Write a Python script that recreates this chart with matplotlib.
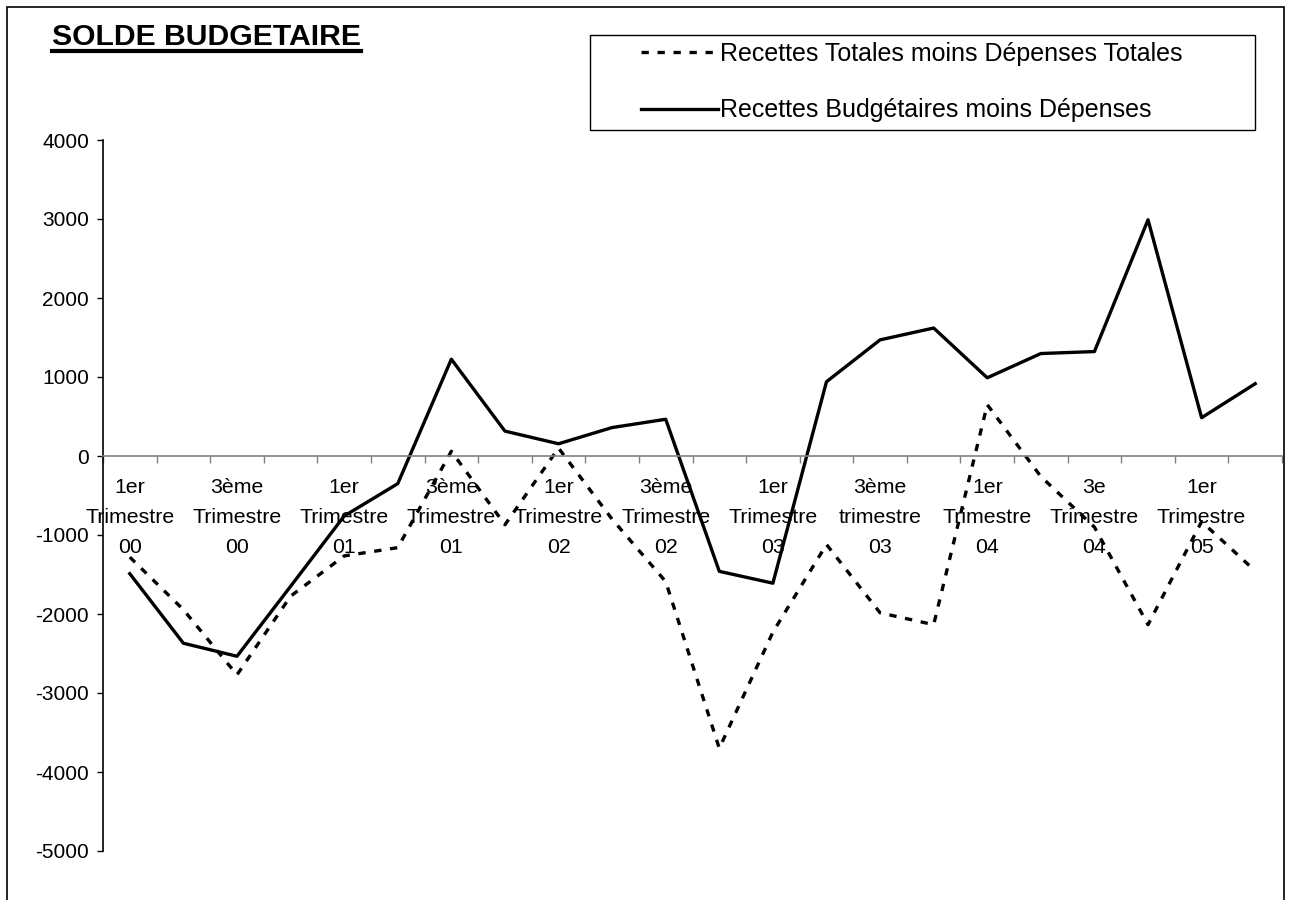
import numpy
import matplotlib

matplotlib.use("Agg")
import matplotlib.pyplot
from matplotlib.patches import Rectangle
from matplotlib.lines import Line2D
from matplotlib.transforms import ScaledTranslation

matplotlib.pyplot.rcParams.update({
    "font.family": ["Liberation Sans", "DejaVu Sans"],
    "font.size": 15,
})

W, H = 1290, 900

# category labels (only every other quarter is labelled on the chart)
categories = [
    "1er\nTrimestre\n00", "", "3ème\nTrimestre\n00", "",
    "1er\nTrimestre\n01", "", "3ème\nTrimestre\n01", "",
    "1er\nTrimestre\n02", "", "3ème\nTrimestre\n02", "",
    "1er\nTrimestre\n03", "", "3ème\ntrimestre\n03", "",
    "1er\nTrimestre\n04", "", "3e\nTrimestre\n04", "",
    "1er\nTrimestre\n05", "",
]

recettes_totales = [
    -1280, -1945, -2770, -1775, -1265, -1160, 60, -870,
    100, -800, -1590, -3700, -2230, -1120, -1985, -2135,
    650, -260, -900, -2135, -830, -1455,
]

recettes_budgetaires = [
    -1490, -2370, -2535, -1650, -760, -350, 1225, 315,
    155, 360, 465, -1460, -1610, 940, 1470, 1620,
    990, 1297, 1322, 2990, 485, 915,
]

yticks = [4000, 3000, 2000, 1000, 0, -1000, -2000, -3000, -4000, -5000]

label_totales = "Recettes Totales moins Dépenses Totales"
label_budget = "Recettes Budgétaires moins Dépenses"
title = "SOLDE BUDGETAIRE"


def fx(px):
    return px / W


def fy(py):
    return 1 - py / H


fig = matplotlib.pyplot.figure(figsize=(W / 100, H / 100), dpi=100)
fig.patch.set_facecolor("white")

# outer chart border
fig.add_artist(Rectangle((fx(7), fy(1000)), fx(1284) - fx(7), fy(7) - fy(1000),
                         transform=fig.transFigure, fill=False, edgecolor="black", linewidth=1.2))

ax = fig.add_axes([fx(103), fy(851), fx(1282) - fx(103), fy(140) - fy(851)])
x = numpy.arange(len(categories))

ax.plot(x, recettes_totales, color="black", linewidth=2.4, linestyle=(0, (2.2, 2.6)),
        label=label_totales)
ax.plot(x, recettes_budgetaires, color="black", linewidth=2.4, label=label_budget)

ax.set_xlim(-0.5, len(categories) - 0.5)
ax.set_ylim(-5000, 4000)

for side in ["top", "right"]:
    ax.spines[side].set_visible(False)
ax.spines["bottom"].set_position(("data", 0))
ax.spines["bottom"].set_color("#808080")
ax.spines["bottom"].set_linewidth(1.2)
ax.spines["left"].set_linewidth(1.2)

ax.set_yticks(yticks)
ax.set_yticklabels([str(v) for v in yticks], fontsize=15)
ax.tick_params(axis="y", direction="out", length=4, width=1, pad=6)

ax.set_xticks(numpy.arange(len(categories) + 1) - 0.5)
ax.set_xticklabels([])
ax.tick_params(axis="x", direction="out", length=5, width=1, color="#808080")

# category labels hang below the zero line
shift = ScaledTranslation(0, -22 / 100, fig.dpi_scale_trans)
for i, lab in enumerate(categories):
    if lab:
        ax.text(i, 0, lab, ha="center", va="top", fontsize=15.3, linespacing=1.72,
                transform=ax.transData + shift, clip_on=False)

# legend
fig.add_artist(Rectangle((fx(590), fy(130)), fx(1255) - fx(590), fy(35) - fy(130),
                         transform=fig.transFigure, fill=False, edgecolor="black", linewidth=1.0))
handles, labels = ax.get_legend_handles_labels()
leg = fig.legend(handles, labels, loc="upper left", bbox_to_anchor=(fx(628), fy(29)),
                 frameon=False, fontsize=18, handlelength=3.08, handletextpad=0.1,
                 labelspacing=1.32, borderpad=0)

# title with underline
ttl = fig.text(fx(52), fy(45), title, fontsize=21.7, fontweight="bold", ha="left", va="baseline")
fig.canvas.draw()
bb = ttl.get_window_extent()
fig.add_artist(Line2D([bb.x0 / W, bb.x1 / W], [fy(51), fy(51)], transform=fig.transFigure,
                      color="black", linewidth=3))

fig.savefig("out.png", dpi=100)
